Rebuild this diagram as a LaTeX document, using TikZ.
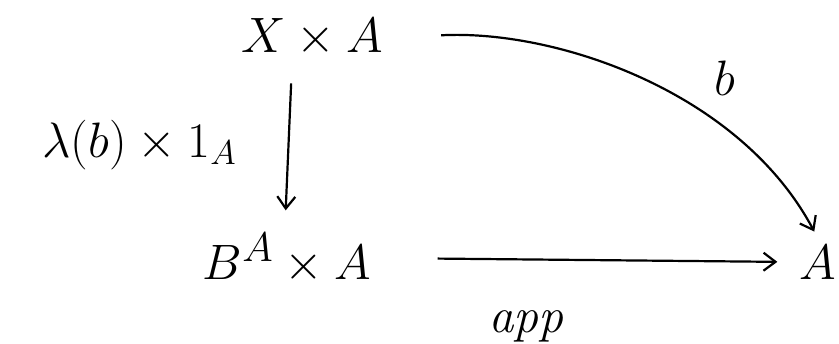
\documentclass[tikz,border=0pt]{standalone}
\usepackage{tikz}
\usetikzlibrary{arrows.meta, positioning}
\tikzset{
  obj/.style={font=\fontsize{30}{32}\selectfont, inner sep=3pt},
  arr/.style={-{Straight Barb[length=6pt, width=9pt]}, line width=1.1pt},
  lbl/.style={font=\fontsize{24}{26}\selectfont}
}

\begin{document}
\begin{tikzpicture}[x=0.5pt, y=-0.5pt]
  \useasboundingbox (0,0) rectangle (839,343);

  \node[obj] (prod) at (312,38) {$X \times A$};
  \node[obj] (expo) at (287,258) {$B^A \times A$};
  \node[obj] (res) at (818,262) {$A$};

  % curry then pair with identity
  \draw[arr, shorten <=10pt, shorten >=8pt] ([xshift=-10pt]prod.south) -- node[lbl, left=22pt] {$\lambda(b) \times 1_A$} ([xshift=-1pt]expo.north);

  % evaluation
  \draw[arr, shorten <=30pt, shorten >=8pt] (expo.east) -- node[lbl, below=22pt, pos=0.36] {$\mathit{app}$} (res.west);

  % the map itself
  \draw[arr, shorten <=26pt, shorten >=4pt] (prod.east) to[out=3, in=118, looseness=0.9] node[lbl, above right=6pt, pos=0.64] {$b$} (res.north);
\end{tikzpicture}
\end{document}
